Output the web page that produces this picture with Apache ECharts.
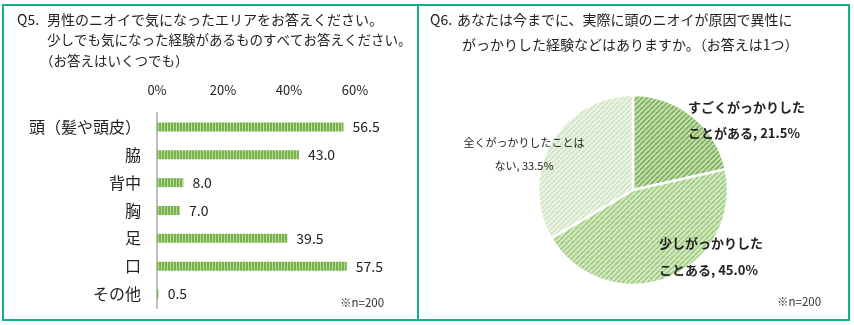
<!DOCTYPE html>
<html><head><meta charset="utf-8">
<script src="https://cdn.jsdelivr.net/npm/echarts@6/dist/echarts.min.js"></script>
<style>html,body{margin:0;padding:0;background:#fff}#c{width:854px;height:325px}</style>
</head><body><div id="c"></div>
<script>
// ---- data ----
const categories = ['頭（髪や頭皮）', '脇', '背中', '胸', '足', '口', 'その他'];
const barValues = [56.5, 43.0, 8.0, 7.0, 39.5, 57.5, 0.5];
const axisMax = 60;
const axisInterval = 20;
const pieNames = ['すごくがっかりした\nことがある', '少しがっかりした\nことある', '全くがっかりしたことは\nない'];
const pieValues = [21.5, 45.0, 33.5];
const q5Head = 'Q5.';
const q5Lines = ['男性のニオイで気になったエリアをお答えください。', '少しでも気になった経験があるものすべてお答えください。', '（お答えはいくつでも）'];
const q6Head = 'Q6.';
const q6Lines = ['あなたは今までに、実際に頭のニオイが原因で異性に', 'がっかりした経験などはありますか。（お答えは1つ）'];
const nNote = '※n=200';

const FONT = '"Noto Sans CJK JP", "Noto Sans", sans-serif';

function stripes(w, h, bg, fg, draw) {
  const c = document.createElement('canvas');
  c.width = w; c.height = h;
  const g = c.getContext('2d');
  g.fillStyle = bg; g.fillRect(0, 0, w, h);
  g.fillStyle = fg; g.strokeStyle = fg;
  draw(g, w, h);
  return c;
}
function vStripe(bg, fg) {
  return stripes(3, 10, bg, fg, (g) => { g.fillRect(2, 0, 1, 10); });
}
function diag(bg, fg) {
  return stripes(5, 5, bg, fg, (g, w, h) => {
    g.lineWidth = 1.6;
    for (let k = -1; k <= 1; k++) {
      g.beginPath();
      g.moveTo(k * w, h);
      g.lineTo(k * w + w, 0);
      g.stroke();
    }
  });
}

const barPattern = { image: vStripe('#76B14A', '#B9DA9E'), repeat: 'repeat' };
const piePatterns = [
  { image: diag('#C6DEB2', '#7DB158'), repeat: 'repeat' },
  { image: diag('#D6EAC6', '#9FCB7E'), repeat: 'repeat' },
  { image: diag('#EEF5E8', '#CFE3C2'), repeat: 'repeat' }
];
const pieLabelPos = [
  { x: 688, y: 94, align: 'left', fs: 13, fw: 'bold', lh: 26 },
  { x: 659, y: 230, align: 'left', fs: 13, fw: 'bold', lh: 27 },
  { x: 524, y: 131, align: 'center', fs: 11, fw: 'normal', lh: 23 }
];

const T = (x, y, text, size, fill) => ({ type: 'text', x, y, style: { text, font: size + 'px ' + FONT, fill: fill || '#222' } });

const chart = echarts.init(document.getElementById('c'), null, { renderer: 'canvas' });
chart.setOption({
  animation: false,
  textStyle: { fontFamily: FONT },
  graphic: [
    { type: 'rect', shape: { x: 3, y: 5, width: 415, height: 315 }, style: { fill: 'none', stroke: '#13B189', lineWidth: 2 } },
    { type: 'rect', shape: { x: 418, y: 5, width: 431, height: 315 }, style: { fill: 'none', stroke: '#13B189', lineWidth: 2 } },
    T(17, 13, q5Head, 14), T(47, 13, q5Lines[0], 14),
    T(47, 33, q5Lines[1], 13.5),
    T(40, 54, q5Lines[2], 13.5),
    T(430, 13, q6Head, 14), T(457, 13, q6Lines[0], 14),
    T(462, 38, q6Lines[1], 14),
    T(340, 297, nNote, 11.5, '#333'),
    T(777, 296, nNote, 11.5, '#333')
  ],
  grid: { left: 157, right: 854 - 355, top: 113, bottom: 325 - 308, containLabel: false },
  xAxis: {
    type: 'value', position: 'top', min: 0, max: axisMax, interval: axisInterval,
    axisLine: { show: false }, axisTick: { show: false }, splitLine: { show: false },
    axisLabel: { formatter: '{value}%', fontSize: 13, color: '#222', margin: 16, fontFamily: FONT }
  },
  yAxis: {
    type: 'category', data: categories, inverse: true,
    axisLine: { show: true, lineStyle: { color: '#BFBFBF', width: 2 } },
    axisTick: { show: false },
    axisLabel: { fontSize: 16, color: '#222', margin: 16, fontFamily: FONT }
  },
  series: [
    {
      type: 'bar', data: barValues, barWidth: 9,
      itemStyle: { color: barPattern },
      label: { show: true, position: 'right', distance: 9, fontSize: 14, color: '#222', fontFamily: FONT,
        formatter: (p) => p.value.toFixed(1) }
    },
    {
      type: 'pie', center: [633, 190], radius: [0, 95], startAngle: 90, clockwise: true,
      data: pieNames.map((n, i) => ({
        name: n, value: pieValues[i], itemStyle: { color: piePatterns[i] },
        label: { fontSize: pieLabelPos[i].fs, fontWeight: pieLabelPos[i].fw, lineHeight: pieLabelPos[i].lh, align: pieLabelPos[i].align }
      })),
      itemStyle: { borderColor: '#fff', borderWidth: 2.5 },
      label: {
        show: true, position: 'inside', overflow: 'none', color: '#222', fontFamily: FONT,
        formatter: (p) => p.name + ', ' + p.value.toFixed(1) + '%'
      },
      labelLine: { show: false },
      labelLayout: (params) => {
        const s = pieLabelPos[params.dataIndex];
        return { x: s.x, y: s.y, align: s.align, verticalAlign: 'top' };
      },
      emphasis: { disabled: true }
    }
  ]
});
</script></body></html>
